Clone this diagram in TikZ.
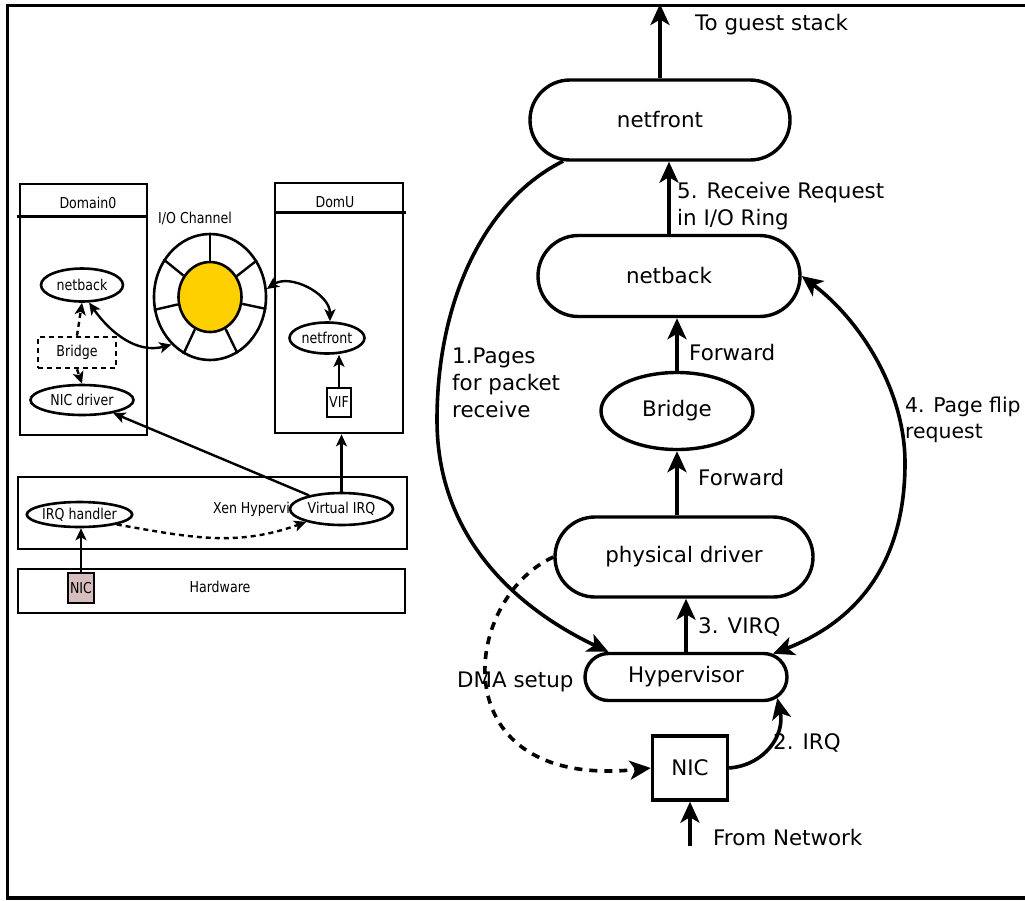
\documentclass[tikz,border=0pt]{standalone}
\usepackage{fontspec}
\setmainfont{DejaVu Sans}
\newfontfamily\narrowsans[FakeStretch=0.84]{DejaVu Sans}
\usetikzlibrary{shapes.misc,shapes.geometric,arrows.meta}
\definecolor{ringcore}{RGB}{255,208,0}
\definecolor{nicfill}{RGB}{214,190,190}
\begin{document}
\begin{tikzpicture}[x=1pt,y=-1pt,
  big/.style={font=\fontsize{21.4}{27}\selectfont},
  small/.style={font={\narrowsans\fontsize{15}{17}\selectfont}},
  stadium/.style={rounded rectangle, draw, line width=3.4pt, big, inner sep=0pt},
  flow/.style={line width=3.6pt, -{Stealth[length=21pt,width=19pt,inset=5.5pt]}},
  twoway/.style={line width=3.6pt, {Stealth[length=21pt,width=19pt,inset=5.5pt]}-{Stealth[length=21pt,width=19pt,inset=5.5pt]}},
  dflow/.style={flow, dash pattern=on 8pt off 7pt},
  lbl/.style={big, inner sep=0pt, anchor=west, align=left},
  sbox/.style={draw, line width=2.6pt, inner sep=0pt, small},
  sell/.style={ellipse, draw, line width=2.6pt, fill=white, small, inner sep=0pt},
  sarrow/.style={line width=2.4pt, -{Stealth[length=12pt,width=11pt,inset=3pt]}},
  sboth/.style={line width=2.4pt, {Stealth[length=12pt,width=11pt,inset=3pt]}-{Stealth[length=12pt,width=11pt,inset=3pt]}},
  sdash/.style={sarrow, dash pattern=on 5pt off 4pt},
]
\useasboundingbox (0,0) rectangle (1025,900);

% outer frame (open on the right)
\draw[line width=3.2pt] (1030,5.5) -- (7.5,5.5) -- (7.5,898) -- (1030,898);

% ---------------- overview: domains, channel, hypervisor, hardware
\node[sbox, minimum width=127, minimum height=251] (d0) at (83.5,309.5) {};
\draw[line width=2.6pt] ([xshift=-2pt,yshift=-34pt]d0.north west) -- ([yshift=-34pt]d0.north east);
\node[small] (d0t) at (88,203) {Domain0};

\node[sbox, minimum width=128, minimum height=250] (du) at (339,308) {};
\draw[line width=2.6pt] ([yshift=-31pt]du.north west) -- ([xshift=2pt,yshift=-31pt]du.north east);
\node[small] (dut) at (335,202) {DomU};

\node[sbox, minimum width=389, minimum height=72] (hyp) at (212.5,513) {};
\node[sbox, minimum width=387, minimum height=44] (hw) at (211.5,591) {};
\node[small] (hwt) at (220,587) {Hardware};
\node[small, anchor=west, inner sep=0pt] (xen) at (213,509) {Xen Hypervisor};

\node[small] (ioc) at (195,218) {I/O Channel};

\node[sell, minimum width=82, minimum height=33] (nbl) at (82,285) {netback};
\node[sbox, dashed, dash pattern=on 5pt off 4pt, minimum width=78, minimum height=31] (brl) at (77,352.5) {Bridge};
\node[sell, minimum width=103, minimum height=30] (nicd) at (82,400) {NIC driver};

\node[ellipse, draw, line width=2.6pt, minimum width=112, minimum height=126] (ring) at (210,297) {};
\node[ellipse, draw, line width=2.6pt, fill=ringcore, minimum width=63, minimum height=70] (core) at (210,297) {};
\foreach \a in {90,38.57,-12.86,-64.29,-115.71,-167.14,141.43}
  \draw[line width=2.4pt] (core.\a) -- (ring.\a);

\node[sell, minimum width=75, minimum height=31] (nfs) at (327,338) {netfront};
\node[sbox, fill=white, minimum width=24, minimum height=29] (vif) at (339,402.5) {VIF};

\node[sell, minimum width=105, minimum height=25] (irq) at (79.5,514.5) {IRQ handler};
\node[sell, minimum width=103, minimum height=32] (vir) at (341.5,509) {Virtual IRQ};
\node[sbox, fill=nicfill, minimum width=26, minimum height=30] (nics) at (81,588) {NIC};

\draw[sdash] (brl.north) -- (nbl.south);
\draw[sdash] (brl.south) -- (nicd.north);
\draw[sboth] (nbl.-68) to[out=-55, in=195] (ring.-129);
\draw[sboth] (ring.8) to[out=35, in=90] (nfs.80);
\draw[sarrow] (vif.north) -- (vif.north |- nfs.south);
\draw[sarrow] (vir.north) -- (vir.north |- du.south);
\draw[sarrow] (vir) -- (nicd);
\draw[sarrow] (nics.north) -- (nics.north |- irq.south);
\draw[sdash] (irq.-15) to[out=-10, in=200] (vir.200);

% ---------------- receive path
\node[stadium, minimum width=260, minimum height=80] (nf) at (660,120) {netfront};
\node[stadium, minimum width=262, minimum height=81] (nb) at (669,276) {netback};
\node[ellipse, draw, line width=3.4pt, big, inner sep=0pt, minimum width=152, minimum height=77] (br) at (677,411) {Bridge};
\node[stadium, minimum width=258, minimum height=80] (pd) at (684,557) {physical driver};
\node[stadium, minimum width=202, minimum height=47] (hv) at (686,677) {Hypervisor};
\node[draw, line width=3.4pt, big, inner sep=0pt, minimum width=75, minimum height=64] (nic) at (690,768) {NIC};
\coordinate (guest) at (660,4);
\coordinate (wire) at (690,846);

\draw[flow] (nf.north) -- (guest);
\draw[flow] (nb.north) -- (nb.north |- nf.south);
\draw[flow] (br.north) -- (br.north |- nb.south);
\draw[flow] (br.south |- pd.north) -- (br.south);
\draw[flow] (hv.north) -- (hv.north |- pd.south);
\draw[flow] (wire) -- (nic.south);
\draw[flow] (nf.-157) .. controls (485,200) and (437,300) .. (437,420)
                      .. controls (437,540) and (520,610) .. (hv.162);
\draw[twoway] (hv.15) .. controls (860,620) and (905,560) .. (905,463)
                      .. controls (905,390) and (860,320) .. (nb.east);
\draw[flow] (nic.east) .. controls (765,765) and (785,735) .. (hv.-13);
\draw[dflow] (pd.west) .. controls (460,600) and (440,790) .. (nic.west);

\node[lbl] (l0) at (695,25) {To guest stack};
\node[lbl] (l5) at (677,206) {5. Receive Request\\in I/O Ring};
\node[lbl] (lf1) at (689,353) {Forward};
\node[lbl] (lf2) at (698,478) {Forward};
\node[lbl] (l1) at (452,383) {1.Pages\\for packet\\receive};
\node[lbl, font=\fontsize{20.4}{26}\selectfont] (l4) at (905,420) {4. Page flip\\request};
\node[lbl] (l3) at (698,627) {3. VIRQ};
\node[lbl] (ldma) at (457,682) {DMA setup};
\node[lbl] (l2) at (773,743) {2. IRQ};
\node[lbl] (lnet) at (713,838) {From Network};
\end{tikzpicture}
\end{document}
